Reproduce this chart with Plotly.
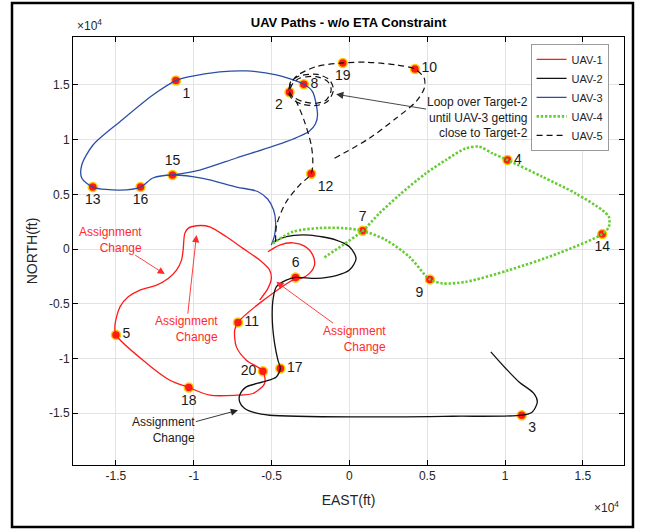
import plotly.graph_objects as go

# ---------------- data (ft) ----------------
target_id = [str(i) for i in range(1, 21)]
target_east = [-11150, -3850, 11070, 10150, -15000, -3460, 850, -2930, 5170, 4210,
               -7160, -2460, -16490, 16240, -11370, -13420, -4440, -10320, -430, -5560]
target_north = [15400, 14330, -15180, 8140, -7840, -2590, 1670, 15060, -2770, 16460,
                -6700, 6890, 5670, 1370, 6770, 5670, -10910, -12650, 17010, -11160]
label_pos = ["bottom right", "bottom left", "bottom right", "middle right", "middle right",
             "top center", "top center", "middle right", "bottom left", "middle right",
             "middle right", "bottom right", "bottom center", "bottom center", "top center",
             "bottom center", "middle right", "bottom center", "bottom center", "middle left"]

uav1_east = [-5237, -4487, -3635, -2885, -2353, -2244, -2564, -3077, -3460, -5769, -7160,
             -7372, -7263, -6622, -5560, -5449, -6199, -7263, -8974, -10320, -11538, -13032,
             -15000, -15064, -14743, -14211, -13461, -12391, -11647, -11109, -10788, -10685,
             -10577, -10365, -9827, -8974, -7904, -6840, -5769, -5128, -5019, -5237, -5769]
uav1_north = [-247, 366, 576, 274, -549, -1463, -2222, -2652, -2700, -4939, -6700,
              -7408, -8936, -10152, -11160, -12283, -13198, -13353, -13353, -12650, -11981, -10426,
              -7840, -6951, -5277, -4363, -3750, -3293, -2680, -1921, -1006, -91,
              1436, 1893, 2131, 2040, 1125, 64, -1006, -1921, -2680, -3594, -4664]

uav2_east = [-4916, -4058, -2564, -853, 0, 429, 0, -853, -2135, -3460, -4058, -4699, -4916,
             -4955, -4808, -4596, -4440, -4699, -5558, -6622, -7051, -7051, -6731, -6090, -5128,
             212, 6622, 11070, 11750, 12070, 11859, 10897, 10045, 9083]
uav2_north = [640, 1143, 1280, 823, 210, -851, -1921, -2424, -2680, -2590, -2835, -3448, -4664,
              -6494, -8625, -10152, -10910, -11680, -12137, -12594, -13353, -13966, -14570, -14954, -15182,
              -15338, -15274, -15180, -14881, -13966, -13198, -12137, -10911, -9393]

uav3_east = [-5019, -4808, -4743, -4872, -5256, -5897, -7243, -9423, -11370, -12628, -13420,
             -14743, -16490, -17198, -17198, -16474, -14743, -12628, -11150, -10256, -8333,
             -6622, -4699, -2930, -2372, -2051, -2180, -2564, -4058, -7263, -9615, -11370]
uav3_north = [366, 1280, 2469, 3567, 4573, 5259, 5671, 6466, 6770, 6494, 5670,
              5396, 5670, 6494, 7683, 9512, 11643, 14085, 15400, 15758, 16188,
              16280, 15914, 15060, 14387, 12256, 11450, 10800, 9814, 8323, 7225, 6770]

uav4_east = [-4916, -3635, -1923, -429, 850, 2353, 3846, 5170, 5981, 7481, 10256, 13461,
             16240, 16666, 16666, 16237, 14532, 12391, 10150, 9186, 8333, 7481, 6199, 4916,
             3205, 1923, 850, -429, -1711]
uav4_north = [521, 1582, 1921, 1921, 1670, 823, -704, -2770, -3137, -2991, -1921, -366,
              1370, 2040, 2954, 3567, 5094, 6613, 8140, 8753, 9356, 9210, 8140, 6924,
              4939, 3265, 1670, 366, -851]

uav5_east = [-4743, -4679, -4058, -3205, -2460, -2353, -2455, -2885, -3417, -3850,
             -3654, -3205, -2135, -1391, -1173, -1494, -2135, -2994, -3635, -3846,
             -3782, -3205, -2051, -1282, -1026, -1410, -2135, -3077, -3718, -3910,
             -3782, -3397, -2135, -430, 1070, 2994, 4210, 4808, 4808, 4275, 2994, 1282, -962]
uav5_north = [668, 2195, 4326, 5853, 6890, 7984, 9512, 11643, 13472, 14330,
              15091, 15612, 15758, 15301, 14542, 13628, 13326, 13472, 13929, 14359,
              15274, 15823, 15960, 15457, 14542, 13490, 13124, 13262, 13765, 14359,
              15091, 15823, 16673, 17010, 17075, 16829, 16460, 15612, 14698, 13472, 11954, 10125, 8295]

tick_vals = [-15000, -10000, -5000, 0, 5000, 10000, 15000]
tick_text = ["-1.5", "-1", "-0.5", "0", "0.5", "1", "1.5"]

# ---------------- figure ----------------
fig = go.Figure()

fig.add_trace(go.Scatter(
    x=target_east, y=target_north, mode="markers+text", text=target_id,
    textposition=label_pos, textfont=dict(size=14, color="#1a1a1a", family="Liberation Sans"),
    marker=dict(size=9, color="#ff1a1a", line=dict(color="#ffcc00", width=1.5)),
    showlegend=False, hoverinfo="skip"))

paths = [
    ("UAV-1", uav1_east, uav1_north, dict(color="#ff1a1a", width=1.3)),
    ("UAV-2", uav2_east, uav2_north, dict(color="#111111", width=1.3)),
    ("UAV-3", uav3_east, uav3_north, dict(color="#2b4ea5", width=1.3)),
    ("UAV-4", uav4_east, uav4_north, dict(color="#66cc33", width=2.6, dash="2.4px,1.8px")),
    ("UAV-5", uav5_east, uav5_north, dict(color="#111111", width=1.2, dash="6px,4px")),
]
for name, xs, ys, ln in paths:
    fig.add_trace(go.Scatter(x=xs, y=ys, mode="lines", name=name,
                             line=dict(shape="spline", smoothing=0.8, **ln)))

red = "#ff2a2a"
notes = [
    # (text centre x, y, arrow head x, y, text, text colour, arrow colour)
    (8205, 12027, -853, 14149, "Loop over Target-2<br>until UAV-3 getting<br>close to Target-2",
     "#1a1a1a", "#333333"),
    (-15320, 869, -11859, -2287, "Assignment<br>Change", red, red),
    (-10493, -7317, -9827, 1280, "Assignment<br>Change", red, red),
    (321, -8186, -4699, -2991, "Assignment<br>Change", red, red),
    (-11923, -16554, -7160, -14725, "Assignment<br>Change", "#1a1a1a", "#222222"),
]
annotations = []
for tx, ty, hx, hy, t, tc, ac in notes:
    annotations.append(dict(x=hx, y=hy, ax=tx, ay=ty, xref="x", yref="y", axref="x", ayref="y",
                            text=t, align="right", showarrow=True, arrowhead=2, arrowsize=1.6,
                            arrowwidth=0.9, arrowcolor=ac, standoff=0, borderpad=0,
                            font=dict(size=12, color=tc, family="Liberation Sans")))

annotations += [
    dict(x=0.003, y=1.005, xref="paper", yref="paper", showarrow=False,
         text="×10<sup>4</sup>", xanchor="left", yanchor="bottom",
         font=dict(size=12, color="#262626", family="Liberation Sans")),
    dict(x=0.995, y=-0.122, xref="paper", yref="paper", showarrow=False,
         text="×10<sup>4</sup>", xanchor="right", yanchor="bottom",
         font=dict(size=12, color="#262626", family="Liberation Sans")),
]

axis_common = dict(
    tickvals=tick_vals, ticktext=tick_text, showgrid=True, gridcolor="#e3e3e3", gridwidth=1,
    zeroline=False, showline=True, linecolor="#000000", linewidth=1, mirror="ticks",
    ticks="inside", ticklen=5, tickcolor="#000000",
    tickfont=dict(size=12, color="#262626", family="Liberation Sans"),
)

fig.update_layout(
    width=645, height=530,
    margin=dict(l=73, r=21, t=37, b=65),
    paper_bgcolor="white", plot_bgcolor="white",
    title=dict(text="<b>UAV Paths - w/o ETA Constraint</b>", x=0.5, xref="paper",
               y=0.9585, yref="container", xanchor="center", yanchor="middle",
               font=dict(size=13, color="#000000", family="Liberation Sans")),
    xaxis=dict(range=[-17760, 17640], title=dict(text="EAST(ft)", standoff=12,
               font=dict(size=14, color="#262626", family="Liberation Sans")), **axis_common),
    yaxis=dict(range=[-19730, 19380], title=dict(text="NORTH(ft)", standoff=8,
               font=dict(size=14, color="#262626", family="Liberation Sans")), **axis_common),
    legend=dict(x=0.972, y=0.984, xanchor="right", yanchor="top", bgcolor="white",
                bordercolor="#9a9a9a", borderwidth=1, itemwidth=30, tracegroupgap=0,
                font=dict(size=11, color="#262626", family="Liberation Sans")),
    annotations=annotations,
    shapes=[dict(type="rect", xref="paper", yref="paper", x0=-0.1107, x1=1.0163,
                 y0=-0.1449, y1=1.0794, line=dict(color="black", width=2.5))],
    showlegend=True,
)

fig.write_html("out.html")
